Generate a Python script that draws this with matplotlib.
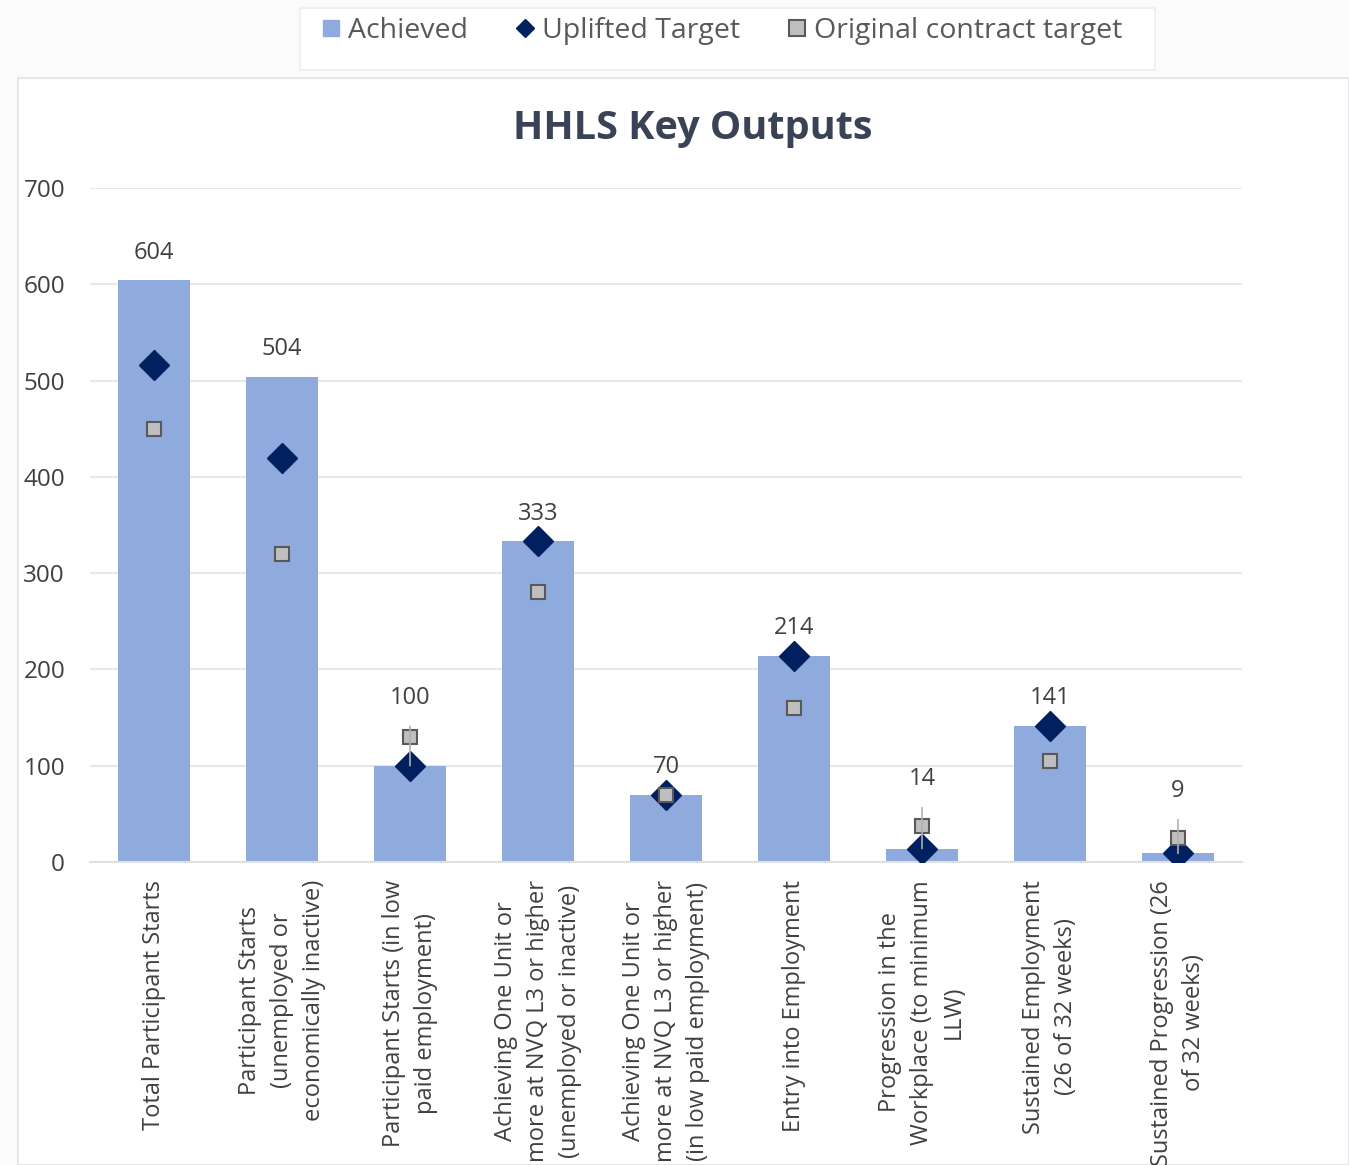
import numpy as np
import matplotlib.pyplot as plt
from matplotlib.patches import Rectangle
from matplotlib.lines import Line2D

# HHLS key outputs: achieved vs uplifted and original targets

categories = [
    "Total Participant Starts",
    "Participant Starts\n(unemployed or\neconomically inactive)",
    "Participant Starts (in low\npaid employment)",
    "Achieving One Unit or\nmore at NVQ L3 or higher\n(unemployed or inactive)",
    "Achieving One Unit or\nmore at NVQ L3 or higher\n(in low paid employment)",
    "Entry into Employment",
    "Progression in the\nWorkplace (to minimum\nLLW)",
    "Sustained Employment\n(26 of 32 weeks)",
    "Sustained Progression (26\nof 32 weeks)",
]
achieved = [604, 504, 100, 333, 70, 214, 14, 141, 9]
uplifted = [516, 420, 100, 333, 70, 214, 14, 141, 9]
original = [450, 320, 130, 280, 70, 160, 37, 105, 25]
y_ticks = [0, 100, 200, 300, 400, 500, 600, 700]

BAR = '#8FAADC'
NAVY = '#002060'
GREY_FILL = '#BFBFBF'
GREY_EDGE = '#595959'
TXT = '#404040'
FONT = 'Open Sans'

plt.rcParams['font.family'] = [FONT, 'DejaVu Sans']

fig = plt.figure(figsize=(13.49, 11.65), dpi=100, facecolor='#FBFBFC')

# chart frame and legend frame (faint, like the office chart area)
fig.patches.append(Rectangle((18 / 1349, 0), 1 - 18 / 1349, 1 - 78 / 1165,
                             transform=fig.transFigure, facecolor='white',
                             edgecolor='#E4E6EA', lw=1.5, zorder=-2))
fig.patches.append(Rectangle((300 / 1349, 1 - 70 / 1165), 855 / 1349, 62 / 1165,
                             transform=fig.transFigure, facecolor='white',
                             edgecolor='#EEEEF1', lw=1.2, zorder=-2))

ax = fig.add_axes([90 / 1349, 1 - 862 / 1165, 1152 / 1349, 674 / 1165])
ax.set_zorder(2)
ax.set_facecolor('none')

x = np.arange(len(categories))
ax.bar(x, achieved, width=0.56, color=BAR, zorder=2)

# data labels; a few are lifted with a leader line like in Excel
lifted = {2: 49, 6: 50, 8: 45}
for i, v in enumerate(achieved):
    off = lifted.get(i, 20)
    if i in lifted:
        ax.annotate(str(v), xy=(i, v), xytext=(0, off), textcoords='offset points',
                    ha='center', va='center', fontsize=17, color=TXT, zorder=5,
                    arrowprops=dict(arrowstyle='-', color='#B0B0B0', lw=1.2,
                                    shrinkA=10, shrinkB=0))
    else:
        ax.annotate(str(v), xy=(i, v), xytext=(0, off), textcoords='offset points',
                    ha='center', va='center', fontsize=17, color=TXT, zorder=5)

ax.plot(x, uplifted, ls='none', marker='D', ms=15, mfc=NAVY, mec=NAVY, zorder=3)
ax.plot(x, original, ls='none', marker='s', ms=10, mfc=GREY_FILL, mec=GREY_EDGE,
        mew=1.5, zorder=4)

ax.set_xlim(-0.5, len(categories) - 0.5)
ax.set_ylim(0, 700)
ax.set_yticks(y_ticks)
ax.yaxis.grid(True, color='#E8E8E8', lw=1.5, zorder=0)
ax.set_axisbelow(True)
for s in ['top', 'right', 'left']:
    ax.spines[s].set_visible(False)
ax.spines['bottom'].set_color('#E0E0E0')
ax.spines['bottom'].set_linewidth(1.5)
ax.tick_params(axis='both', length=0, labelcolor=TXT)
ax.tick_params(axis='y', pad=18, labelsize=17.5)
ax.set_xticks(x)
ax.set_xticklabels(categories, rotation=90, fontsize=17, color=TXT,
                   multialignment='center', linespacing=1.45)
ax.tick_params(axis='x', pad=13)

fig.text(693 / 1349, 1 - 128 / 1165, 'HHLS Key Outputs', ha='center', va='center',
         fontsize=28.5, fontweight='bold', color='#3A4356')

handles = [
    Line2D([], [], ls='none', marker='s', ms=12, mfc=BAR, mec=BAR),
    Line2D([], [], ls='none', marker='D', ms=9, mfc=NAVY, mec=NAVY),
    Line2D([], [], ls='none', marker='s', ms=12, mfc=GREY_FILL, mec=GREY_EDGE, mew=1.5),
]
fig.legend(handles, ['Achieved', 'Uplifted Target', 'Original contract target'],
           loc='center', bbox_to_anchor=(721 / 1349, 1 - 31 / 1165), ncol=3,
           frameon=False, fontsize=20.5, labelcolor='#595959', handletextpad=0.2,
           columnspacing=1.6, handlelength=0.8)

fig.savefig('out.png', dpi=100, facecolor=fig.get_facecolor())
